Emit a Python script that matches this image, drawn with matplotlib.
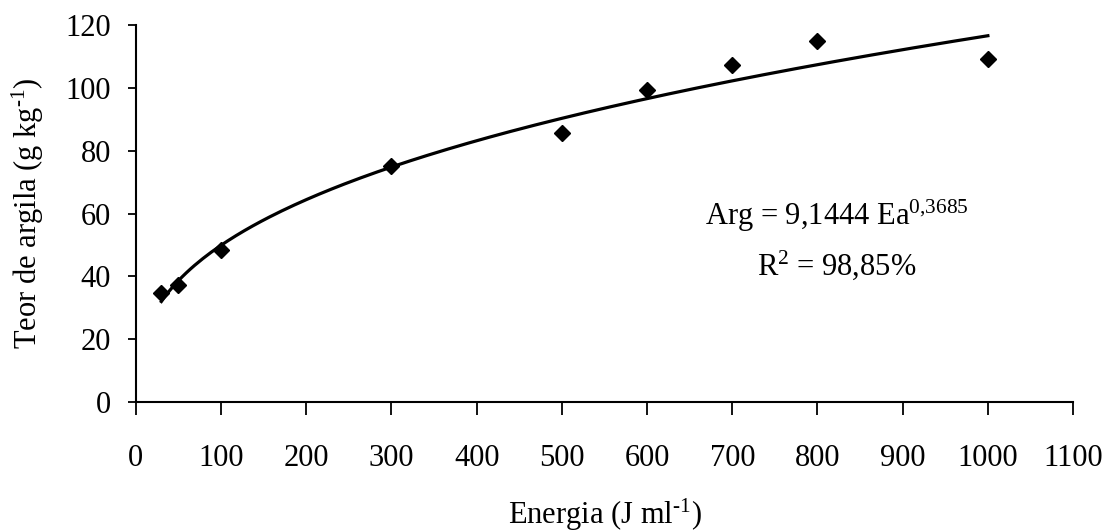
import numpy as np
import matplotlib
matplotlib.use("Agg")
import matplotlib.pyplot as plt

plt.rcParams['font.family'] = ['Liberation Serif', 'DejaVu Serif']
plt.rcParams['mathtext.fontset'] = 'custom'
plt.rcParams['mathtext.rm'] = 'Liberation Serif'
plt.rcParams['mathtext.default'] = 'regular'

# observed points
energia = [30, 50, 100, 300, 500, 600, 700, 800, 1000]
argila = [34.8, 37.2, 48.3, 75.0, 85.8, 99.2, 107.4, 115.0, 109.2]

# power fit shown on the chart: Arg = a * Ea^b
coef_a = 9.1444
coef_b = 0.3685
fit_x = np.linspace(30, 1000, 200)
fit_y = coef_a * fit_x ** coef_b

fs = 22

fig = plt.figure(figsize=(11.04, 5.32), dpi=100)
ax = fig.add_axes([0.123, 0.244, 0.849, 0.709])

ax.plot(fit_x, fit_y, color='black', lw=2.3, zorder=2)
ax.plot(energia, argila, linestyle='none', marker='D', color='black',
        markersize=8.5, zorder=3)

ax.set_xlim(0, 1100)
ax.set_ylim(0, 120)
ax.set_xticks(range(0, 1101, 100))
ax.set_yticks(range(0, 121, 20))

for s in ['top', 'right']:
    ax.spines[s].set_visible(False)
for s in ['left', 'bottom']:
    ax.spines[s].set_linewidth(1.5)

ax.tick_params(axis='x', direction='out', length=9, width=1.3, pad=21, labelsize=fs)
ax.tick_params(axis='y', direction='out', length=6, width=1.3, pad=12, labelsize=fs)

ax.set_xlabel('Energia (J ml$^{\u2010 1}$)', fontsize=fs, labelpad=17)
ax.set_ylabel('Teor de argila (g kg$^{\u2010 1}$)', fontsize=fs, labelpad=14)

ax.text(823, 56.4, 'Arg = 9,1444 Ea$^{0{,}3685}$', fontsize=fs, ha='center', va='baseline')
ax.text(822, 40.4, 'R$^{2}$ = 98,85%', fontsize=fs, ha='center', va='baseline')

fig.savefig('out.png', dpi=100)
